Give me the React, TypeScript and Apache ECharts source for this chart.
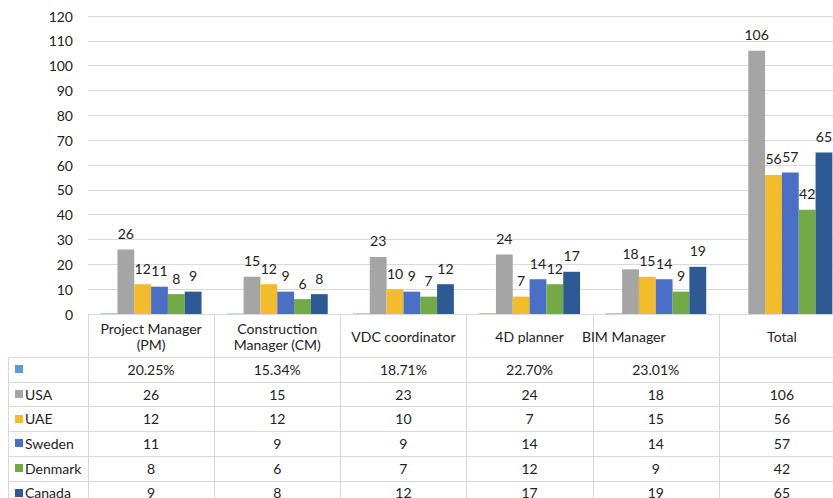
import React, { useEffect, useRef } from "react";
import * as echarts from "echarts";

const categories = ["Project Manager (PM)", "Construction Manager (CM)", "VDC coordinator", "4D planner", "BIM Manager", "Total"];
const headerLines = ["Project Manager\n(PM)", "Construction\nManager (CM)", "VDC coordinator", "4D planner", "BIM Manager", "Total"];
const shareValues: (number | null)[] = [0.2025, 0.1534, 0.1871, 0.227, 0.2301, null];
const usa = [26, 15, 23, 24, 18, 106];
const uae = [12, 12, 10, 7, 15, 56];
const sweden = [11, 9, 9, 14, 14, 57];
const denmark = [8, 6, 7, 12, 9, 42];
const canada = [9, 8, 12, 17, 19, 65];
const seriesNames = ["", "USA", "UAE", "Sweden", "Denmark", "Canada"];
const colors = ["#5B9BD5", "#A5A5A5", "#F2BC2C", "#4A6FC4", "#73A947", "#2D5A93"];

const FONT = "Lato, 'Open Sans', sans-serif";
const TEXT = "#222222";
const LINE = "#D9D9D9";

export default function App() {
  const ref = useRef<HTMLDivElement>(null);
  useEffect(() => {
    if (!ref.current) return;
    const chart = echarts.init(ref.current, null, { renderer: "svg" });
    const countries = [usa, uae, sweden, denmark, canada];
    const series: any[] = [
      {
        name: seriesNames[0],
        type: "bar",
        data: shareValues,
        itemStyle: { color: colors[0] },
        barGap: "0%",
        barCategoryGap: "20%",
      },
      ...countries.map((d, i) => ({
        name: seriesNames[i + 1],
        type: "bar",
        data: d,
        itemStyle: { color: colors[i + 1] },
        barGap: "0%",
        barCategoryGap: "20%",
        label: {
          show: true,
          position: "top",
          distance: 9,
          color: TEXT,
          fontFamily: FONT,
          fontSize: 14,
        },
      })),
    ];
    chart.setOption({
      animation: false,
      textStyle: { fontFamily: FONT },
      grid: { left: 88, right: 0, top: 16, bottom: 184, containLabel: false },
      xAxis: {
        type: "category",
        data: categories,
        axisLine: { show: true, lineStyle: { color: LINE, width: 1 } },
        axisTick: { show: false },
        axisLabel: { show: false },
      },
      yAxis: {
        type: "value",
        min: 0,
        max: 120,
        interval: 10,
        axisLine: { show: false },
        axisTick: { show: false },
        axisLabel: { color: TEXT, fontFamily: FONT, fontSize: 14, margin: 15 },
        splitLine: { lineStyle: { color: LINE, width: 1 } },
      },
      series,
    });

    const centers = categories.map((c) => chart.convertToPixel({ xAxisIndex: 0 }, c) as number);
    const half = (centers[1] - centers[0]) / 2;
    const y0 = Math.round(chart.convertToPixel({ yAxisIndex: 0 }, 0) as number);
    const headerH = 43;
    const rowH = 24.7;
    const rightEdge = centers[centers.length - 1] + half;
    const g: any[] = [];
    const hline = (y: number, x1: number, x2: number) =>
      g.push({ type: "line", silent: true, shape: { x1, y1: Math.round(y) + 0.5, x2, y2: Math.round(y) + 0.5 }, style: { stroke: LINE, lineWidth: 1 } });
    const vline = (x: number, y1: number, y2: number) =>
      g.push({ type: "line", silent: true, shape: { x1: Math.round(x) + 0.5, y1, x2: Math.round(x) + 0.5, y2 }, style: { stroke: LINE, lineWidth: 1 } });
    const text = (t: string, x: number, y: number, align: string) =>
      g.push({
        type: "text",
        silent: true,
        style: {
          text: t, x, y, fill: TEXT, font: `14px ${FONT}`, lineHeight: 16,
          align, verticalAlign: "middle", textAlign: align, textVerticalAlign: "middle",
        },
      });

    const rowsTop = y0 + headerH;
    const rows: { name: string; vals: string[] }[] = [
      { name: seriesNames[0], vals: shareValues.map((v) => (v == null ? "" : (v * 100).toFixed(2) + "%")) },
      ...countries.map((d, i) => ({ name: seriesNames[i + 1], vals: d.map(String) })),
    ];
    for (let r = 0; r <= rows.length; r++) hline(rowsTop + r * rowH, 8, rightEdge);
    const bottom = rowsTop + rows.length * rowH;
    vline(8, rowsTop, bottom);
    for (let i = 0; i < centers.length; i++) vline(centers[i] - half, y0, bottom);
    headerLines.forEach((h, i) => {
      const dx = categories[i] === "BIM Manager" ? -32 : 0;
      text(h, centers[i] + dx, y0 + 22, "center");
    });
    rows.forEach((row, r) => {
      const cy = rowsTop + r * rowH + rowH / 2;
      g.push({ type: "rect", silent: true, shape: { x: 15, y: Math.round(cy) - 4, width: 8, height: 8 }, style: { fill: colors[r] } });
      if (row.name) text(row.name, 25, cy, "left");
      row.vals.forEach((v, i) => {
        if (v) text(v, centers[i], cy, "center");
      });
    });
    chart.setOption({ graphic: { elements: g } });
    return () => chart.dispose();
  }, []);
  return (
    <div style={{ position: "fixed", left: 0, top: 0, width: 833, height: 498, overflow: "hidden", background: "#fff" }}>
      <div ref={ref} style={{ width: 845, height: 498 }} />
    </div>
  );
}
